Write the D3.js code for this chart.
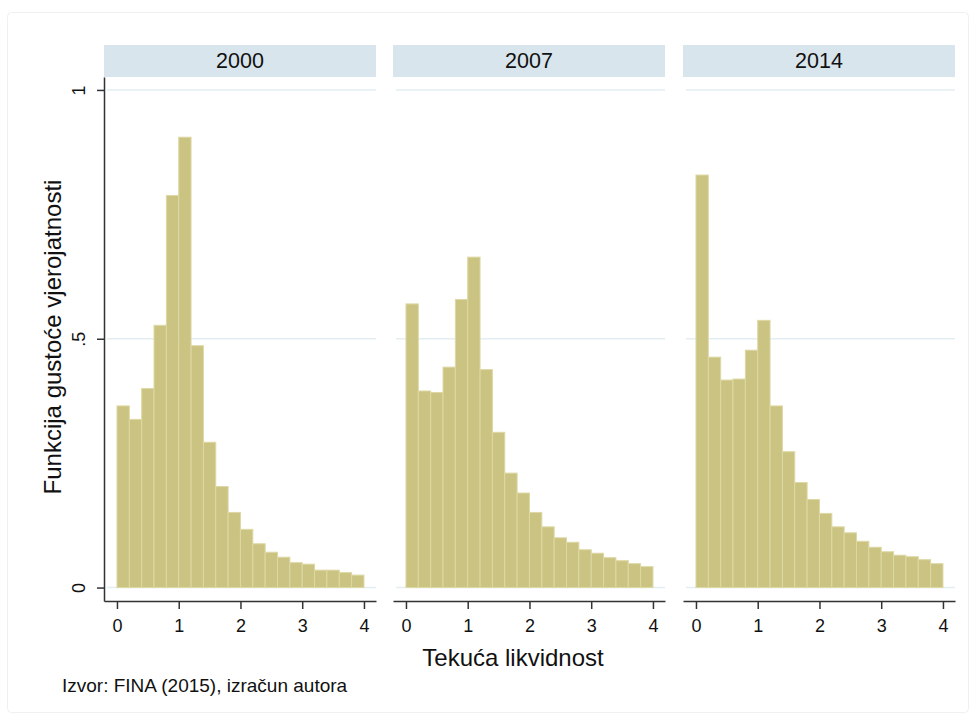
<!DOCTYPE html>
<html>
<head>
<meta charset="utf-8">
<script src="https://cdn.jsdelivr.net/npm/d3@7"></script>
<style>
  body { margin: 0; background: #fff; }
  svg { font-family: "Liberation Sans", Arial, sans-serif; }
</style>
</head>
<body>
<script>
const YEARS = ['2000', '2007', '2014'];

// left edge of each histogram bin (width 0.2)
const BIN_STARTS = [0, 0.2, 0.4, 0.6, 0.8, 1.0, 1.2, 1.4, 1.6, 1.8,
                    2.0, 2.2, 2.4, 2.6, 2.8, 3.0, 3.2, 3.4, 3.6, 3.8];
const BIN_WIDTH = 0.2;

const DENSITY_2000 = [0.365, 0.338, 0.400, 0.527, 0.788, 0.905, 0.486, 0.292, 0.203, 0.151,
                      0.117, 0.088, 0.071, 0.061, 0.050, 0.047, 0.035, 0.035, 0.030, 0.025];
const DENSITY_2007 = [0.570, 0.395, 0.392, 0.443, 0.579, 0.664, 0.438, 0.312, 0.230, 0.190,
                      0.151, 0.122, 0.100, 0.091, 0.076, 0.069, 0.060, 0.054, 0.048, 0.042];
const DENSITY_2014 = [0.829, 0.463, 0.417, 0.419, 0.477, 0.537, 0.365, 0.273, 0.211, 0.177,
                      0.149, 0.122, 0.110, 0.093, 0.081, 0.072, 0.065, 0.062, 0.056, 0.048];

const X_TICKS = [0, 1, 2, 3, 4];
const Y_TICKS = [0, 0.5, 1];
const Y_TICK_LABELS = ['0', '.5', '1'];

const X_TITLE = 'Tekuća likvidnost';
const Y_TITLE = 'Funkcija gustoće vjerojatnosti';
const NOTE = 'Izvor: FINA (2015), izračun autora';

document.addEventListener('DOMContentLoaded', () => {
  drawChart();
});

function drawChart() {
  let width = 976, height = 718;
  let series = [DENSITY_2000, DENSITY_2007, DENSITY_2014];

  let panelLeft = [104, 393, 683];
  let panelW = 272;
  let headTop = 45, headBot = 77;
  let plotBot = 601;

  let svg = d3.select('body').append('svg')
              .attr('width', width)
              .attr('height', height);

  // faint outer frame
  svg.append('rect')
     .attr('x', 7.5).attr('y', 12.5)
     .attr('width', 961).attr('height', 700)
     .attr('rx', 4)
     .attr('fill', 'none')
     .attr('stroke', '#f0f0f0');

  let y = d3.scaleLinear()
            .domain([-0.027, 1.026])
            .range([plotBot, headBot]);

  YEARS.forEach((year, i) => {
    let left = panelLeft[i];
    let x = d3.scaleLinear()
              .domain([-0.21, 4.195])
              .range([left, left + panelW]);

    let g = svg.append('g');

    // header strip
    g.append('rect')
     .attr('x', left).attr('y', headTop)
     .attr('width', panelW).attr('height', headBot - headTop)
     .attr('fill', '#d8e5ec');
    g.append('text')
     .attr('x', left + panelW / 2)
     .attr('y', 68)
     .attr('text-anchor', 'middle')
     .attr('font-size', 21.5)
     .attr('fill', '#111')
     .text(year);

    // grid
    g.selectAll('.grid')
     .data(Y_TICKS)
     .join('line')
     .attr('x1', left + 3).attr('x2', left + panelW)
     .attr('y1', d => y(d)).attr('y2', d => y(d))
     .attr('stroke', '#e4eef2')
     .attr('stroke-width', 1.5);

    // bars
    g.selectAll('.bar')
     .data(series[i])
     .join('rect')
     .attr('x', (d, j) => x(BIN_STARTS[j]))
     .attr('width', (d, j) => x(BIN_STARTS[j] + BIN_WIDTH) - x(BIN_STARTS[j]))
     .attr('y', d => y(d))
     .attr('height', d => y(0) - y(d))
     .attr('fill', '#cbc381')
     .attr('stroke', '#ddd8a4')
     .attr('stroke-width', 1);

    // x axis
    let xAxis = d3.axisBottom(x)
                  .tickValues(X_TICKS)
                  .tickFormat(d3.format('d'))
                  .tickSizeInner(8)
                  .tickSizeOuter(0)
                  .tickPadding(10);
    let ax = svg.append('g')
                .attr('transform', 'translate(0,' + plotBot + ')')
                .call(xAxis);
    ax.select('.domain').attr('stroke', '#333').attr('stroke-width', 1.5);
    ax.selectAll('.tick line').attr('stroke', '#333').attr('stroke-width', 1.5);
    ax.selectAll('.tick text')
      .attr('font-size', 18)
      .attr('font-family', '"Liberation Sans", Arial, sans-serif')
      .attr('fill', '#111');
  });

  // y axis (first panel only)
  let yAxis = d3.axisLeft(y)
                .tickValues(Y_TICKS)
                .tickFormat((d, i) => Y_TICK_LABELS[i])
                .tickSizeInner(7)
                .tickSizeOuter(0)
                .tickPadding(8);
  let ay = svg.append('g')
              .attr('transform', 'translate(' + panelLeft[0] + ',0)')
              .call(yAxis);
  ay.select('.domain').attr('stroke', '#333').attr('stroke-width', 1.5);
  ay.selectAll('.tick line').attr('stroke', '#333').attr('stroke-width', 1.5);
  ay.selectAll('.tick text')
    .attr('font-size', 18)
    .attr('font-family', '"Liberation Sans", Arial, sans-serif')
    .attr('fill', '#111')
    .attr('text-anchor', 'middle')
    .attr('dy', '0')
    .attr('transform', 'translate(-19,0) rotate(-90)')
    .attr('x', 0)
    .attr('y', 0);

  // axis titles
  svg.append('text')
     .attr('x', 513).attr('y', 666)
     .attr('text-anchor', 'middle')
     .attr('font-size', 24)
     .attr('fill', '#111')
     .text(X_TITLE);

  svg.append('text')
     .attr('transform', 'translate(61,337) rotate(-90)')
     .attr('text-anchor', 'middle')
     .attr('font-size', 24)
     .attr('fill', '#111')
     .text(Y_TITLE);

  svg.append('text')
     .attr('x', 62).attr('y', 692)
     .attr('font-size', 19)
     .attr('fill', '#111')
     .text(NOTE);
}
</script>
</body>
</html>
